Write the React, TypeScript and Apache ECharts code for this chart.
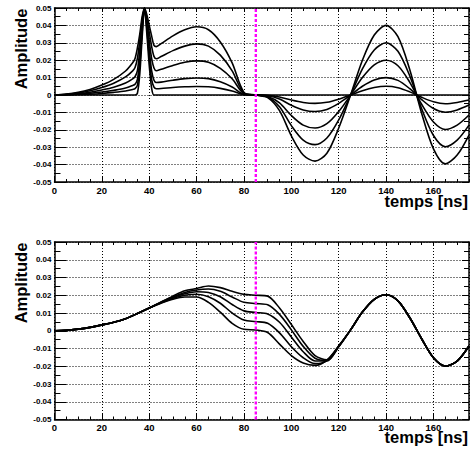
import React, { useEffect, useRef } from "react";
import * as echarts from "echarts";

// ---------- data ----------
const timeMin = 0;
const timeMax = 175;
const ampMin = -0.05;
const ampMax = 0.05;
const markerTime = 85;

// top panel: sampled times (ns)
const tTop = [0, 5, 10, 15, 20, 25, 30, 33, 34, 35, 36, 37, 38, 39, 40, 41, 42, 43, 45, 50, 55, 60, 65, 70, 75, 80, 85, 90, 95, 100, 105, 110, 115, 120, 125, 130, 135, 140, 145, 150, 155, 160, 165, 170, 175];

const topA = [0, 0.0005, 0.0015, 0.0032, 0.0057, 0.009, 0.0138, 0.0185, 0.021, 0.027, 0.035, 0.045, 0.05, 0.046, 0.04, 0.034, 0.0285, 0.0278, 0.0295, 0.034, 0.0375, 0.0392, 0.0375, 0.0305, 0.0185, 0.0015, 0, -0.0015, -0.009, -0.0235, -0.0345, -0.038, -0.0335, -0.019, 0, 0.02, 0.0345, 0.04, 0.0335, 0.0145, -0.0105, -0.031, -0.0396, -0.0345, -0.023];
const topB = [0, 0.0004, 0.0011, 0.0024, 0.0043, 0.0068, 0.0104, 0.0139, 0.0158, 0.021, 0.031, 0.043, 0.05, 0.044, 0.036, 0.028, 0.0222, 0.0208, 0.0221, 0.0255, 0.0281, 0.0294, 0.0281, 0.0229, 0.0139, 0.0011, 0, -0.0011, -0.0068, -0.0176, -0.0259, -0.0285, -0.0247, -0.0143, 0, 0.015, 0.0259, 0.03, 0.0251, 0.0109, -0.0079, -0.0233, -0.0297, -0.0259, -0.0173];
const topC = [0, 0.0003, 0.0008, 0.0016, 0.0029, 0.0045, 0.0069, 0.0093, 0.0105, 0.014, 0.026, 0.041, 0.05, 0.042, 0.031, 0.021, 0.0155, 0.0139, 0.0148, 0.017, 0.0188, 0.0196, 0.0188, 0.0153, 0.0093, 0.0008, 0, -0.0008, -0.0045, -0.0118, -0.0173, -0.019, -0.0165, -0.0095, 0, 0.01, 0.0173, 0.02, 0.0168, 0.0073, -0.0053, -0.0155, -0.0198, -0.0173, -0.0115];
const topD = [0, 0.0002, 0.0005, 0.001, 0.0017, 0.0027, 0.004, 0.0055, 0.0062, 0.009, 0.02, 0.038, 0.05, 0.04, 0.026, 0.014, 0.0085, 0.0072, 0.0074, 0.0085, 0.0094, 0.0098, 0.0094, 0.0076, 0.0046, 0.0004, 0, -0.0004, -0.0023, -0.0059, -0.0086, -0.0095, -0.0083, -0.0048, 0, 0.005, 0.0086, 0.01, 0.0084, 0.0036, -0.0026, -0.0078, -0.0099, -0.0086, -0.0058];
const topE = [0, 0.0001, 0.0003, 0.0005, 0.0009, 0.0015, 0.0023, 0.0032, 0.0036, 0.0055, 0.017, 0.036, 0.05, 0.038, 0.022, 0.009, 0.0045, 0.0036, 0.0037, 0.0043, 0.0047, 0.0049, 0.0047, 0.0038, 0.0023, 0.0002, 0, -0.0002, -0.0011, -0.0029, -0.0043, -0.0048, -0.0042, -0.0024, 0, 0.0025, 0.0043, 0.005, 0.0042, 0.0018, -0.0013, -0.0039, -0.005, -0.0043, -0.0029];
const topF = [0, 0, 0, 0, 0, 0, 0, 0, 0, 0.001, 0.012, 0.033, 0.05, 0.035, 0.017, 0.004, 0, 0, 0, 0, 0, 0, 0, 0, 0, 0, 0, 0, 0, 0, 0, 0, 0, 0, 0, 0, 0, 0, 0, 0, 0, 0, 0, 0, 0];

// bottom panel
const tBot = [0, 5, 10, 15, 20, 25, 30, 35, 40, 45, 50, 55, 60, 65, 70, 75, 80, 85, 90, 95, 100, 105, 110, 115, 120, 125, 130, 135, 140, 145, 150, 155, 160, 165, 170, 175];
const botHead = [0, 0.0002, 0.0009, 0.0019, 0.0033, 0.0048, 0.0068, 0.0097, 0.0128];
const botTail = [0.0005, 0.0105, 0.0177, 0.0203, 0.0168, 0.0073, -0.0045, -0.0152, -0.0199, -0.0171, -0.0086];
const botMid1 = [0.0162, 0.0195, 0.0225, 0.0238, 0.0252, 0.0243, 0.0222, 0.0205, 0.02, 0.0195, 0.0128, 0.0035, -0.006, -0.014, -0.0163, -0.0088];
const botMid2 = [0.0161, 0.0191, 0.0216, 0.023, 0.0235, 0.0222, 0.019, 0.016, 0.0153, 0.0146, 0.0092, 0.0005, -0.0088, -0.0155, -0.0168, -0.009];
const botMid3 = [0.0159, 0.0187, 0.0208, 0.022, 0.0216, 0.0192, 0.0148, 0.0112, 0.0103, 0.0095, 0.0048, -0.0035, -0.0118, -0.017, -0.017, -0.0089];
const botMid4 = [0.0157, 0.0183, 0.02, 0.0206, 0.0192, 0.0155, 0.01, 0.006, 0.0052, 0.0042, -0.0012, -0.009, -0.0152, -0.0185, -0.0168, -0.0087];
const botMid5 = [0.0155, 0.0178, 0.019, 0.019, 0.016, 0.0105, 0.0042, 0.0008, 0.0004, -0.001, -0.0075, -0.014, -0.0182, -0.0195, -0.0165, -0.0085];

const topCurves = [topA, topB, topC, topD, topE, topF];
const botCurves = [botMid1, botMid2, botMid3, botMid4, botMid5].map((m) => [...botHead, ...m, ...botTail]);

const FONT = '"Liberation Sans", Arial, Helvetica, sans-serif';

function mainX(g: number) {
  return {
    type: "value", gridIndex: g, position: "bottom", min: timeMin, max: timeMax, interval: 20,
    axisLine: { show: true, onZero: false, lineStyle: { color: "#000", width: 1.5 } },
    axisTick: { show: true, inside: true, length: 6, lineStyle: { color: "#000", width: 1 } },
    axisLabel: { show: true, margin: 3, fontSize: 9.5, fontWeight: "bold", color: "#000", fontFamily: FONT, showMaxLabel: false },
    splitLine: { show: true, lineStyle: { color: "#000", width: 1, type: [1, 2] } },
  };
}
function minorX(g: number, pos: string) {
  return {
    type: "value", gridIndex: g, position: pos, min: timeMin, max: timeMax, interval: 5,
    axisLine: { show: pos === "top", onZero: false, lineStyle: { color: "#000", width: 1.5 } },
    axisTick: { show: true, inside: true, length: 3, lineStyle: { color: "#000", width: 1 } },
    axisLabel: { show: false },
    splitLine: { show: false },
  };
}
function leftY(g: number) {
  return {
    type: "value", gridIndex: g, position: "left", min: ampMin, max: ampMax, interval: 0.01,
    axisLine: { show: true, onZero: false, lineStyle: { color: "#000", width: 1.5 } },
    axisTick: { show: true, inside: true, length: 12, lineStyle: { color: "#000", width: 1 } },
    minorTick: { show: true, splitNumber: 2, length: 6, lineStyle: { color: "#000", width: 1 } },
    axisLabel: { show: true, margin: 3, fontSize: 8, fontWeight: "bold", color: "#000", fontFamily: FONT },
    splitLine: { show: true, lineStyle: { color: "#000", width: 1, type: [1, 2] } },
  };
}
function rightY(g: number) {
  return {
    type: "value", gridIndex: g, position: "right", min: ampMin, max: ampMax, interval: 0.01,
    axisLine: { show: true, onZero: false, lineStyle: { color: "#000", width: 1.5 } },
    axisTick: { show: true, inside: true, length: 7, lineStyle: { color: "#000", width: 1 } },
    minorTick: { show: true, splitNumber: 2, length: 5, lineStyle: { color: "#000", width: 1 } },
    axisLabel: { show: false },
    splitLine: { show: false },
  };
}

function curveSeries(ts: number[], ys: number[], xi: number, yi: number) {
  return {
    type: "line", xAxisIndex: xi, yAxisIndex: yi,
    data: ts.map((t, i) => [t, ys[i]]),
    symbol: "none", showSymbol: false, smooth: 0.3, silent: true, z: 3,
    lineStyle: { color: "#000", width: 1.6 },
  };
}
function markerSeries(xi: number, yi: number) {
  return {
    type: "line", xAxisIndex: xi, yAxisIndex: yi,
    data: [[markerTime, ampMin], [markerTime, ampMax]],
    symbol: "none", showSymbol: false, silent: true, z: 5,
    lineStyle: { color: "#ff00ff", width: 2.4, type: [3, 2] },
  };
}

function titleText(text: string, x: number, y: number, rotate: boolean, align: string) {
  return {
    type: "text", x, y, rotation: rotate ? Math.PI / 2 : 0, silent: true,
    style: {
      text, fill: "#000", font: `bold 16.5px ${FONT}`,
      textAlign: align, textVerticalAlign: "middle", align, verticalAlign: "middle",
    },
  };
}

export default function App() {
  const ref = useRef<HTMLDivElement>(null);
  useEffect(() => {
    if (!ref.current) return;
    const chart = echarts.init(ref.current, undefined, { renderer: "svg" });
    const option: any = {
      animation: false,
      backgroundColor: "#fff",
      grid: [
        { left: 54.5, right: 4, top: 8, height: 174, outerBoundsMode: "none" },
        { left: 54.5, right: 4, top: 242, height: 177.5, outerBoundsMode: "none" },
      ],
      xAxis: [mainX(0), minorX(0, "bottom"), minorX(0, "top"), mainX(1), minorX(1, "bottom"), minorX(1, "top")],
      yAxis: [leftY(0), rightY(0), leftY(1), rightY(1)],
      series: [
        ...topCurves.map((c) => curveSeries(tTop, c, 0, 0)),
        markerSeries(0, 0),
        ...botCurves.map((c) => curveSeries(tBot, c, 3, 2)),
        markerSeries(3, 2),
      ],
      graphic: [
        titleText("Amplitude", 21, 49, true, "center"),
        titleText("Amplitude", 21, 283, true, "center"),
        titleText("temps [ns]", 468, 201, false, "right"),
        titleText("temps [ns]", 468, 437, false, "right"),
      ],
    };
    chart.setOption(option);
    return () => chart.dispose();
  }, []);
  return (
    <div
      ref={ref}
      style={{ position: "absolute", left: 0, top: 0, width: 473, height: 452, background: "#fff" }}
    />
  );
}
